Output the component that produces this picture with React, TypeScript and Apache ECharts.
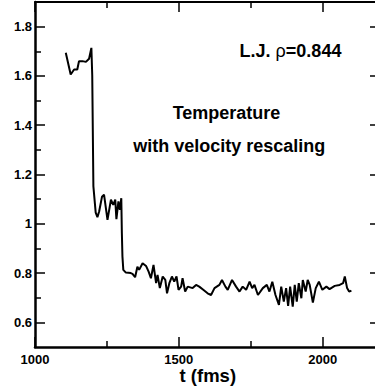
import React, { useEffect, useRef } from "react";
import * as echarts from "echarts";

const timeFs = [
  1107, 1124, 1136, 1147, 1153, 1165, 1177, 1188, 1196, 1199, 1203, 1211, 1217, 1223, 1233, 1240,
  1252, 1264, 1272, 1279, 1283, 1290, 1295, 1300, 1302, 1304, 1307, 1316, 1333, 1339, 1348, 1356,
  1362, 1374, 1386, 1395, 1403, 1412, 1421, 1426, 1434, 1444, 1453, 1459, 1467, 1476, 1484, 1492,
  1499, 1508, 1513, 1522, 1531, 1548, 1560, 1571, 1585, 1600, 1612, 1624, 1641, 1650, 1662, 1670,
  1685, 1699, 1711, 1722, 1734, 1746, 1755, 1763, 1775, 1792, 1806, 1815, 1825, 1836, 1848, 1856,
  1865, 1873, 1880, 1887, 1896, 1903, 1910, 1917, 1926, 1931, 1941, 1948, 1955, 1966, 1976, 1987,
  1999, 2013, 2024, 2042, 2059, 2071, 2077, 2085, 2092, 2100,
];
const temperature = [
  1.694, 1.606, 1.626, 1.626, 1.66, 1.66, 1.657, 1.67, 1.714, 1.602, 1.152, 1.045, 1.027, 1.05, 1.11, 1.118,
  1.016, 1.098, 1.077, 1.098, 1.019, 1.091, 1.057, 1.104, 0.962, 0.867, 0.813, 0.802, 0.8, 0.797, 0.783, 0.826,
  0.813, 0.84, 0.829, 0.806, 0.779, 0.833, 0.759, 0.793, 0.739, 0.786, 0.772, 0.718, 0.759, 0.786, 0.765, 0.786,
  0.732, 0.745, 0.779, 0.725, 0.745, 0.739, 0.752, 0.745, 0.732, 0.718, 0.711, 0.739, 0.752, 0.772, 0.745, 0.732,
  0.772, 0.745, 0.725, 0.745, 0.732, 0.765, 0.739, 0.752, 0.711, 0.739, 0.752, 0.725, 0.765, 0.711, 0.671, 0.745,
  0.684, 0.739, 0.667, 0.745, 0.664, 0.752, 0.684, 0.759, 0.698, 0.772, 0.725, 0.772, 0.752, 0.68, 0.739, 0.765,
  0.732, 0.745, 0.735, 0.748, 0.752, 0.759, 0.786, 0.739, 0.725, 0.729,
];

const xMajorTicks = [1000, 1500, 2000];
const xMinorTicks = [1250, 1750];
const yMajorTicks = [0.6, 0.8, 1, 1.2, 1.4, 1.6, 1.8];
const yMinorTicks = [0.7, 0.9, 1.1, 1.3, 1.5, 1.7];

const FONT = "'Liberation Sans', Arial, Helvetica, sans-serif";

export default function App() {
  const ref = useRef<HTMLDivElement>(null);
  useEffect(() => {
    if (!ref.current) return;
    const chart = echarts.init(ref.current, undefined, { renderer: "svg" });
    // the frame's right edge lies just outside the picture; the visible part ends at x = 2182
    const X_MIN = 1000, X_MAX = 2182, Y_MIN = 0.5, Y_MAX = 1.9;
    const line = (w: number, show = true) => ({ show, lineStyle: { color: "#000", width: w } });
    const ticks = (vals: number[], len: number) => ({
      show: true,
      inside: true,
      length: len,
      customValues: vals,
      lineStyle: { color: "#000", width: 1.5 },
    });
    const noLabel = { show: false };
    const xBase = { type: "value", min: X_MIN, max: X_MAX, splitLine: { show: false } };
    const yBase = { type: "value", min: Y_MIN, max: Y_MAX, splitLine: { show: false } };
    chart.setOption({
      animation: false,
      grid: { left: 35, top: 2, width: 340, height: 345, containLabel: false, outerBoundsMode: "none" },
      xAxis: [
        {
          ...xBase,
          position: "bottom",
          axisLine: line(2.5),
          axisTick: ticks(xMajorTicks, 10),
          axisLabel: {
            customValues: xMajorTicks,
            color: "#000",
            fontWeight: "bold",
            fontSize: 13,
            fontFamily: FONT,
            margin: 5.5,
            formatter: (v: number) => String(v),
          },
        },
        { ...xBase, position: "bottom", axisLine: line(1, false), axisTick: ticks(xMinorTicks, 6), axisLabel: noLabel },
        { ...xBase, position: "top", axisLine: line(2), axisTick: ticks(xMajorTicks, 10), axisLabel: noLabel },
        { ...xBase, position: "top", axisLine: line(1, false), axisTick: ticks(xMinorTicks, 6), axisLabel: noLabel },
      ],
      yAxis: [
        {
          ...yBase,
          position: "left",
          axisLine: line(2.5),
          axisTick: ticks(yMajorTicks, 10),
          axisLabel: {
            customValues: yMajorTicks,
            color: "#000",
            fontWeight: "bold",
            fontSize: 13,
            fontFamily: FONT,
            margin: 3,
            formatter: (v: number) => String(Math.round(v * 10) / 10),
          },
        },
        { ...yBase, position: "left", axisLine: line(1, false), axisTick: ticks(yMinorTicks, 6), axisLabel: noLabel },
        { ...yBase, position: "right", axisLine: line(1, false), axisTick: ticks(yMajorTicks, 5), axisLabel: noLabel },
      ],
      series: [
        {
          type: "line",
          xAxisIndex: 0,
          yAxisIndex: 0,
          data: timeFs.map((t, i) => [t, temperature[i]]),
          showSymbol: false,
          symbol: "none",
          lineStyle: { color: "#000", width: 2 },
        },
      ],
      graphic: [
        {
          type: "text",
          x: 290.5,
          y: 51,
          style: {
            text: "{b|L.J. }{r|ρ}{b|=0.844}",
            align: "center",
            verticalAlign: "middle",
            rich: {
              b: { fontFamily: FONT, fontWeight: "bold", fontSize: 18, fill: "#000" },
              r: { fontFamily: FONT, fontWeight: "normal", fontSize: 18, fill: "#000" },
            },
          },
        },
        {
          type: "text",
          x: 226.5,
          y: 113,
          style: {
            text: "Temperature",
            align: "center",
            verticalAlign: "middle",
            fontFamily: FONT,
            fontWeight: "bold",
            fontSize: 18,
            fill: "#000",
          },
        },
        {
          type: "text",
          x: 229.2,
          y: 146,
          style: {
            text: "with velocity rescaling",
            align: "center",
            verticalAlign: "middle",
            fontFamily: FONT,
            fontWeight: "bold",
            fontSize: 18,
            fill: "#000",
          },
        },
        {
          type: "text",
          x: 207.8,
          y: 375,
          style: {
            text: "t (fms)",
            align: "center",
            verticalAlign: "middle",
            fontFamily: FONT,
            fontWeight: "bold",
            fontSize: 18.5,
            fill: "#000",
          },
        },
      ],
    });
    return () => chart.dispose();
  }, []);
  return (
    <div
      ref={ref}
      style={{ position: "absolute", left: 0, top: 0, width: 375, height: 389, background: "#fff" }}
    />
  );
}
